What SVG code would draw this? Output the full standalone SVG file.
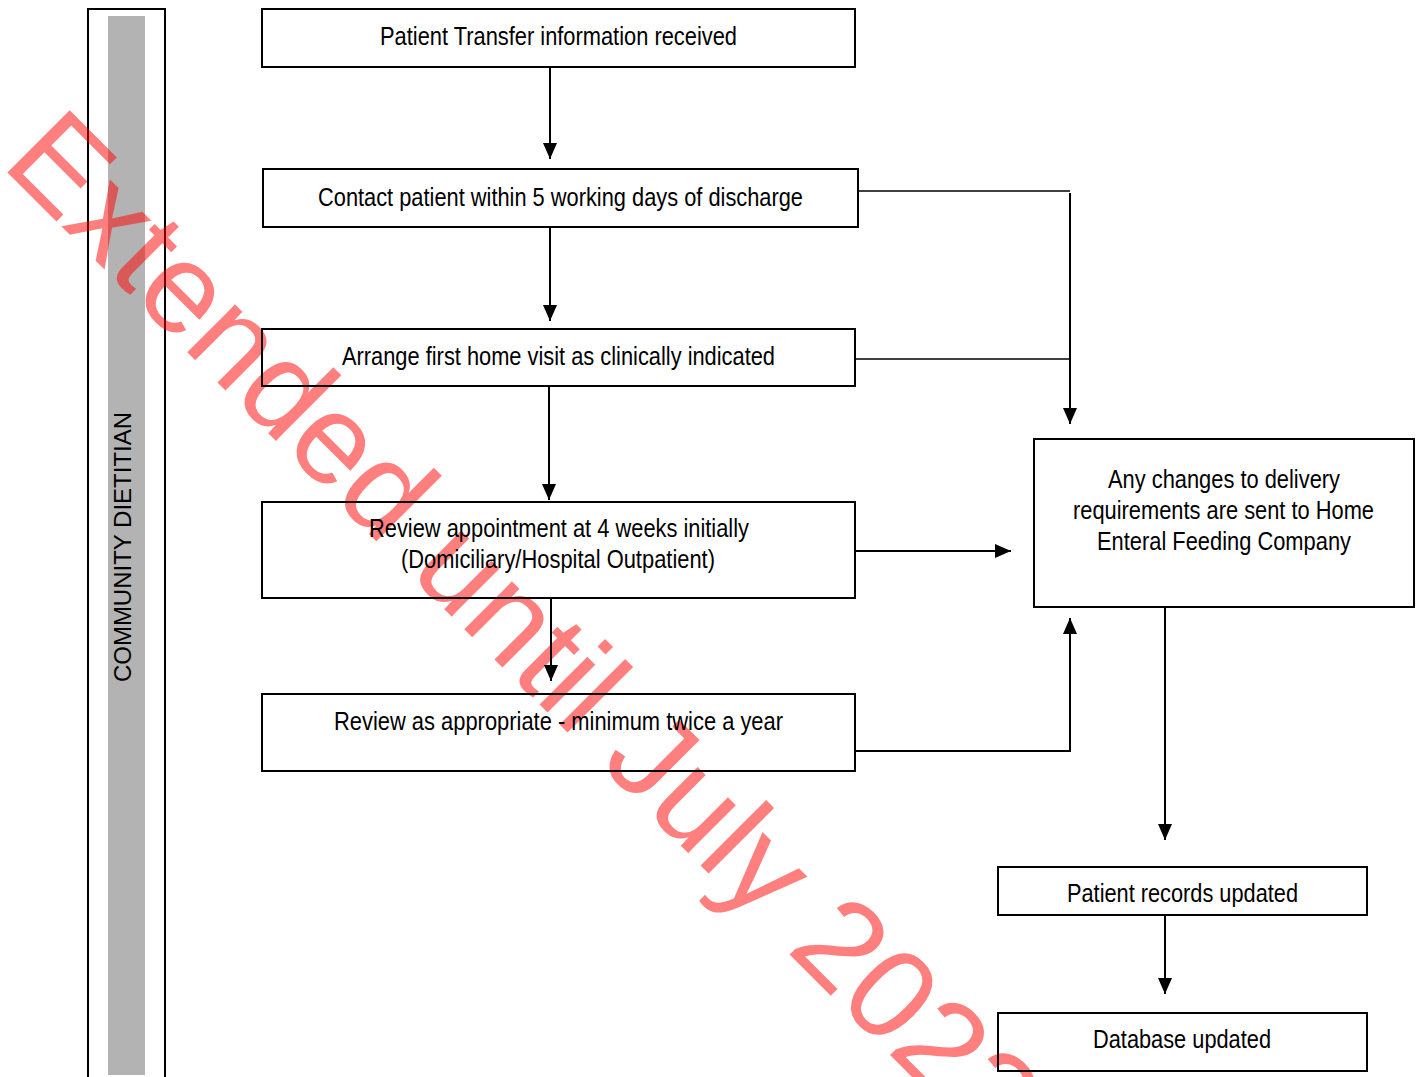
<svg xmlns="http://www.w3.org/2000/svg" width="1426" height="1077" viewBox="0 0 1426 1077">
  <style>
    .box { fill: none; stroke: #000; stroke-width: 2; }
    .lbl { font-family: "Liberation Sans", Arial, sans-serif; font-size: 25px; fill: #000; text-anchor: middle; }
    .lane { font-family: "Liberation Sans", Arial, sans-serif; font-size: 24px; fill: #000; text-anchor: middle; }
    .wire { fill: none; stroke: #000; stroke-width: 2; }
    .thin { stroke-width: 1.6; }
    .wm { font-family: "Liberation Sans", Arial, sans-serif; font-size: 128px; fill: #ff0000; fill-opacity: 0.5; }
  </style>
  <defs>
    <marker id="head" viewBox="0 0 16 14" refX="16" refY="7" markerWidth="16" markerHeight="14" markerUnits="userSpaceOnUse" orient="auto">
      <path d="M0,0 L16,7 L0,14 Z" fill="#000"/>
    </marker>
  </defs>

  <rect width="1426" height="1077" fill="#fff"/>

  <!-- swimlane -->
  <g id="lane">
    <path d="M88,1080 V9 H165 V1080" fill="none" stroke="#000" stroke-width="2"/>
    <rect x="108" y="16" width="37" height="1059" fill="#b3b3b3"/>
    <text class="lane" transform="translate(131,547) rotate(-90)">COMMUNITY DIETITIAN</text>
  </g>

  <!-- watermark -->
  <text class="wm" transform="translate(0,165) rotate(45)">Extended until July 2022</text>

  <!-- connectors -->
  <g id="connectors">
    <path class="wire" d="M550,67 V159" marker-end="url(#head)"/>
    <path class="wire" d="M550,227 V321" marker-end="url(#head)"/>
    <path class="wire" d="M549,386 V500" marker-end="url(#head)"/>
    <path class="wire" d="M551,598 V681" marker-end="url(#head)"/>
    <path class="wire thin" d="M858,191 H1070"/>
    <path class="wire thin" d="M855,359 H1070"/>
    <path class="wire" d="M1070,193 V424" marker-end="url(#head)"/>
    <path class="wire" d="M855,551 H1011" marker-end="url(#head)"/>
    <path class="wire" d="M855,751 H1070 V618" marker-end="url(#head)"/>
    <path class="wire" d="M1165,607 V840" marker-end="url(#head)"/>
    <path class="wire" d="M1165,915 V994" marker-end="url(#head)"/>
  </g>

  <!-- process steps -->
  <g id="transfer-received">
    <rect class="box" x="262" y="9" width="593" height="58"/>
    <text class="lbl" x="558.5" y="45" textLength="357" lengthAdjust="spacingAndGlyphs">Patient Transfer information received</text>
  </g>
  <g id="contact-patient">
    <rect class="box" x="263" y="169" width="595" height="58"/>
    <text class="lbl" x="560.5" y="206" textLength="485" lengthAdjust="spacingAndGlyphs">Contact patient within 5 working days of discharge</text>
  </g>
  <g id="first-visit">
    <rect class="box" x="262" y="329" width="593" height="57"/>
    <text class="lbl" x="558.5" y="365" textLength="433" lengthAdjust="spacingAndGlyphs">Arrange first home visit as clinically indicated</text>
  </g>
  <g id="review-4-weeks">
    <rect class="box" x="262" y="502" width="593" height="96"/>
    <text class="lbl" x="559" y="537" textLength="380" lengthAdjust="spacingAndGlyphs">Review appointment at 4 weeks initially</text>
    <text class="lbl" x="558" y="568" textLength="314" lengthAdjust="spacingAndGlyphs">(Domiciliary/Hospital Outpatient)</text>
  </g>
  <g id="review-twice-yearly">
    <rect class="box" x="262" y="694" width="593" height="77"/>
    <text class="lbl" x="558.5" y="730" textLength="449" lengthAdjust="spacingAndGlyphs">Review as appropriate - minimum twice a year</text>
  </g>
  <g id="delivery-changes">
    <rect class="box" x="1034" y="439" width="380" height="168"/>
    <text class="lbl" x="1224" y="488" textLength="232" lengthAdjust="spacingAndGlyphs">Any changes to delivery</text>
    <text class="lbl" x="1223.5" y="519" textLength="301" lengthAdjust="spacingAndGlyphs">requirements are sent to Home</text>
    <text class="lbl" x="1224" y="550" textLength="254" lengthAdjust="spacingAndGlyphs">Enteral Feeding Company</text>
  </g>
  <g id="records-updated">
    <rect class="box" x="998" y="867" width="369" height="48"/>
    <text class="lbl" x="1182.5" y="902" textLength="231" lengthAdjust="spacingAndGlyphs">Patient records updated</text>
  </g>
  <g id="database-updated">
    <rect class="box" x="998" y="1013" width="369" height="58"/>
    <text class="lbl" x="1182" y="1048" textLength="178" lengthAdjust="spacingAndGlyphs">Database updated</text>
  </g>
</svg>
